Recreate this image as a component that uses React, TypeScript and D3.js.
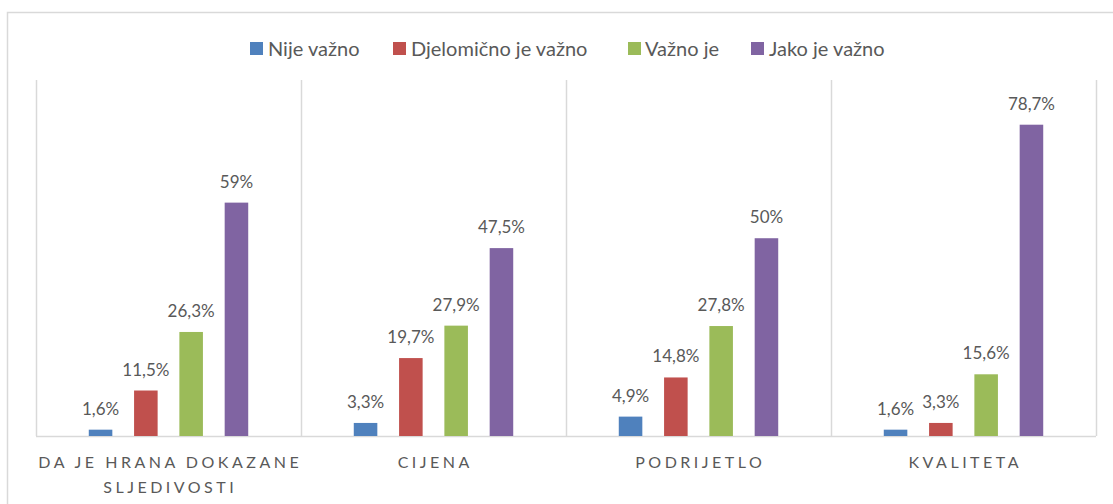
import React from "react";
import * as d3 from "d3";

const categories = ["DA JE HRANA DOKAZANE\nSLJEDIVOSTI", "CIJENA", "PODRIJETLO", "KVALITETA"];
const seriesNames = ["Nije važno", "Djelomično je važno", "Važno je", "Jako je važno"];
const seriesColors = ["#4F81BD", "#C0504D", "#9BBB59", "#8064A2"];
const nijeVazno = [1.6, 3.3, 4.9, 1.6];
const djelomicno = [11.5, 19.7, 14.8, 3.3];
const vaznoJe = [26.3, 27.9, 27.8, 15.6];
const jakoJeVazno = [59, 47.5, 50, 78.7];
const seriesValues = [nijeVazno, djelomicno, vaznoJe, jakoJeVazno];
const yMax = 90;

const W = 1113;
const H = 504;
const plotLeft = 36;
const plotRight = 1096;
const plotTop = 80;
const plotBottom = 436;
const FONT = "Lato, 'Open Sans', sans-serif";
const TEXT = "#595959";
const GRID = "#d9d9d9";

const fmt = (v: number) => String(v).replace(".", ",") + "%";

export default function App() {
  const x0 = d3.scaleBand<string>().domain(categories).range([plotLeft, plotRight]).padding(0);
  const x1 = d3
    .scaleBand<string>()
    .domain(seriesNames)
    .range([0, x0.bandwidth()])
    .paddingInner(0.48)
    .paddingOuter(1.165);
  const y = d3.scaleLinear().domain([0, yMax]).range([plotBottom, plotTop]);

  const legendItems = [
    { x: 250, tx: 268 },
    { x: 393, tx: 411 },
    { x: 628, tx: 645 },
    { x: 751, tx: 769 },
  ];

  return (
    <svg
      width={W}
      height={H}
      style={{ position: "absolute", left: 0, top: 0, background: "#fff" }}
      fontFamily={FONT}
    >
      <rect x={7.5} y={12.5} width={1120} height={520} fill="#fff" stroke={GRID} strokeWidth={1.5} />

      {/* gridlines at category boundaries */}
      {categories.map((c, i) => (
        <line
          key={"g" + i}
          x1={Math.round(x0(c)!) + 0.5}
          x2={Math.round(x0(c)!) + 0.5}
          y1={plotTop}
          y2={plotBottom}
          stroke={GRID}
          strokeWidth={1.5}
        />
      ))}
      <line x1={plotRight + 0.5} x2={plotRight + 0.5} y1={plotTop} y2={plotBottom} stroke={GRID} strokeWidth={1.5} />
      <line x1={plotLeft} x2={plotRight} y1={plotBottom + 0.5} y2={plotBottom + 0.5} stroke={GRID} strokeWidth={1.5} />

      {/* bars */}
      {categories.map((c, ci) =>
        seriesNames.map((s, si) => {
          const v = seriesValues[si][ci];
          const bx = x0(c)! + x1(s)!;
          const by = y(v);
          return (
            <g key={c + s}>
              <rect x={bx} y={by} width={x1.bandwidth()} height={plotBottom - by} fill={seriesColors[si]} />
              <text
                x={bx + x1.bandwidth() / 2}
                y={by - 15}
                textAnchor="middle"
                fontSize={17}
                fill={TEXT}
              >
                {fmt(v)}
              </text>
            </g>
          );
        })
      )}

      {/* category labels */}
      {categories.map((c, ci) => {
        const lines = c.split("\n");
        const cx = x0(c)! + x0.bandwidth() / 2;
        return (
          <text key={"c" + ci} textAnchor="middle" fontSize={16} fill={TEXT} letterSpacing={3.5}>
            {lines.map((l, li) => (
              <tspan key={li} x={cx + 1.75} y={468 + li * 25}>
                {l}
              </tspan>
            ))}
          </text>
        );
      })}

      {/* legend */}
      {seriesNames.map((s, i) => (
        <g key={"l" + i}>
          <rect x={legendItems[i].x} y={42} width={13} height={13} fill={seriesColors[i]} />
          <text x={legendItems[i].tx} y={56} fontSize={20} fill={TEXT}>
            {s}
          </text>
        </g>
      ))}
    </svg>
  );
}
